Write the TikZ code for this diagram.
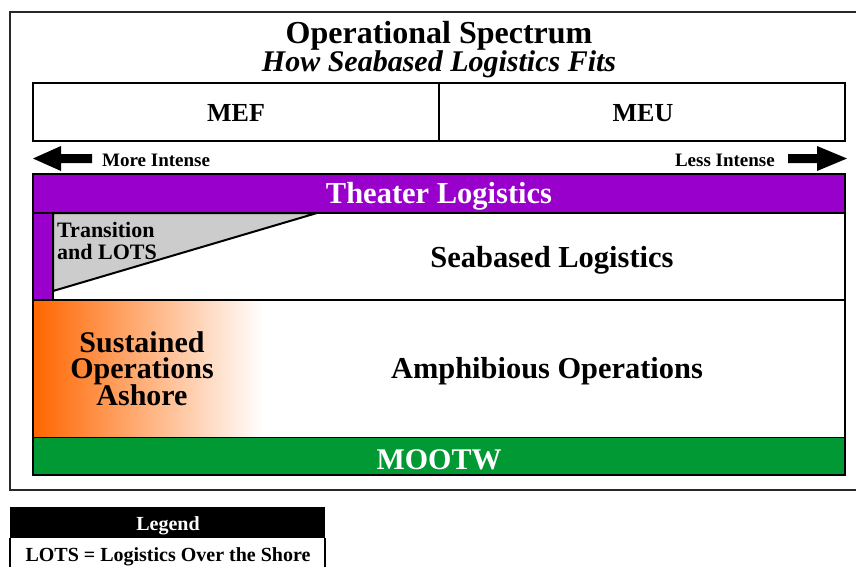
\documentclass[tikz,border=0pt]{standalone}
\usepackage{fontspec}
\setmainfont{Liberation Serif}
\definecolor{theater}{RGB}{153,0,204}
\definecolor{mootw}{RGB}{0,153,51}
\definecolor{lotsgray}{RGB}{204,204,204}
\definecolor{ashore}{RGB}{255,102,0}
\definecolor{framegray}{RGB}{40,40,40}
\begin{document}
\begin{tikzpicture}[x=1pt,y=-1pt,
  label/.style={inner sep=0pt, anchor=base, font=\bfseries},
  band/.style={draw=black, line width=2.5pt},
  arrowbody/.style={fill=black, draw=none}]
\useasboundingbox (0,0) rectangle (856,566);
\fill[white] (0,0) rectangle (856,566);

% outer frame (its right side runs past the page edge)
\draw[framegray, line width=2pt] (860,12) -- (10,12) -- (10,490) -- (860,490);

% title
\node[label, font=\bfseries\fontsize{32}{32}\selectfont] (title) at (439,43) {Operational Spectrum};
\node[label, font=\bfseries\itshape\fontsize{30}{30}\selectfont] (subtitle) at (439,71) {How Seabased Logistics Fits};

% force size boxes
\draw[band, line width=2pt] (33,83) rectangle (845,141);
\draw[line width=2pt] (439,83) -- (439,141);
\node[label, font=\bfseries\fontsize{26}{26}\selectfont] (mef) at (236,121) {MEF};
\node[label, font=\bfseries\fontsize{26}{26}\selectfont] (meu) at (643,121) {MEU};

% intensity arrows
\fill[arrowbody] (33,158.5) -- (61,146) -- (61,154) -- (92,154) -- (92,163) -- (61,163) -- (61,171) -- cycle;
\fill[arrowbody] (847,158.5) -- (817,146) -- (817,154) -- (788,154) -- (788,163) -- (817,163) -- (817,171) -- cycle;
\node[label, anchor=base west, font=\bfseries\fontsize{19}{19}\selectfont] (more) at (102,166) {More Intense};
\node[label, anchor=base east, font=\bfseries\fontsize{19}{19}\selectfont] (less) at (775,166) {Less Intense};

% theater logistics band (also runs down the left side)
\fill[theater] (33,174) rectangle (845,300);
\node[label, text=white, font=\bfseries\fontsize{30.5}{30.5}\selectfont] (theaterlbl) at (439,203) {Theater Logistics};

% seabased logistics box
\fill[white] (53,213) rectangle (845,300);
\filldraw[fill=lotsgray, draw=black, line width=2pt] (53,213) -- (317,213) -- (53,291) -- cycle;
\draw[line width=2.5pt] (33,213) -- (845,213);
\draw[line width=2.5pt] (53,213) -- (53,300);
\node[label, anchor=base west, font=\bfseries\fontsize{22}{22}\selectfont] (trans) at (57,237) {Transition};
\node[label, anchor=base west, font=\bfseries\fontsize{22}{22}\selectfont] (lots) at (57,259) {and LOTS};
\node[label, font=\bfseries\fontsize{30.5}{30.5}\selectfont] (seabased) at (552,267) {Seabased Logistics};

% amphibious operations with sustained operations ashore
\shade[left color=ashore, right color=white] (33,300) rectangle (263,438);
\node[inner sep=0pt, align=center, anchor=center,
      font={\bfseries\fontsize{30}{26.5}\selectfont\lineskiplimit-50pt\relax}]
      (sustained) at (142,368.3) {Sustained\\Operations\\Ashore};
\node[label, font=\bfseries\fontsize{30.4}{30.4}\selectfont] (amphib) at (547,378) {Amphibious Operations};
\draw[line width=2.5pt] (33,300) -- (845,300);
\draw[line width=2.5pt] (33,438) -- (845,438);

% MOOTW band
\fill[mootw] (33,438) rectangle (845,475);
\node[label, text=white, font=\bfseries\fontsize{30}{30}\selectfont] (mootwlbl) at (439,469) {MOOTW};

% outline of the spectrum block
\draw[line width=2.5pt] (33,174) rectangle (845,475);

% legend
\fill[black] (10,507) rectangle (325,538);
\draw[line width=1.5pt] (10,538) -- (10,570);
\draw[line width=1.5pt] (325,538) -- (325,570);
\node[label, text=white, font=\bfseries\fontsize{20}{20}\selectfont] (legend) at (168,530) {Legend};
\node[label, font=\bfseries\fontsize{20}{20}\selectfont] (legendlots) at (168,561) {LOTS = Logistics Over the Shore};
\end{tikzpicture}
\end{document}
